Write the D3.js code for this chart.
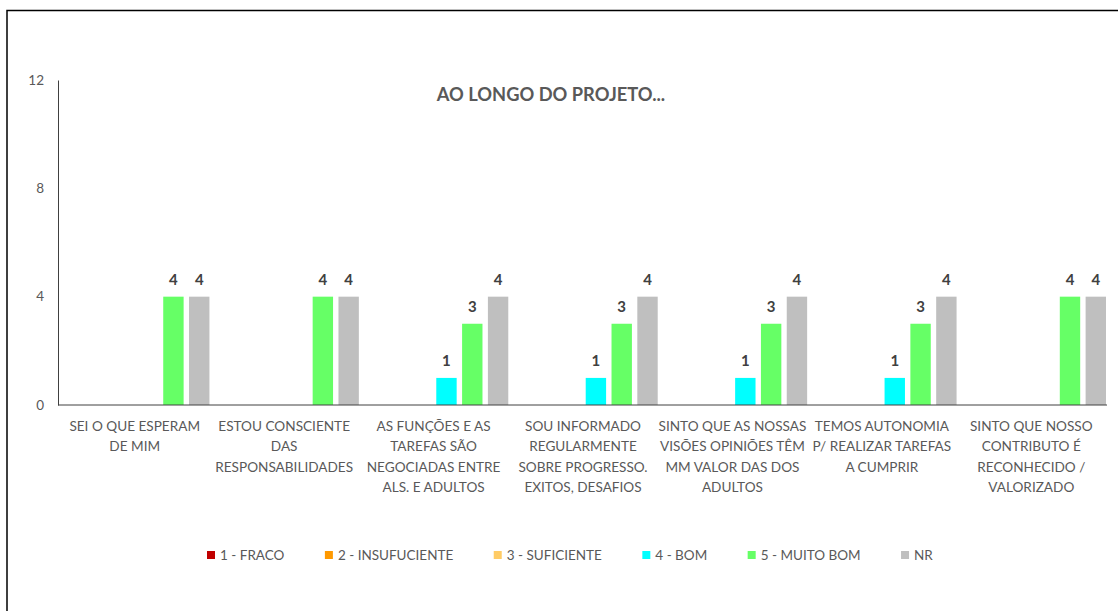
<!DOCTYPE html>
<html>
<head>
<meta charset="utf-8">
<script src="https://cdn.jsdelivr.net/npm/d3@7"></script>
<style>
  html, body { margin: 0; padding: 0; background: #fff; }
  svg { display: block; }
  text { font-family: Lato, "Open Sans", sans-serif; }
</style>
</head>
<body>
<svg id="chart" width="1118" height="611"></svg>
<script>
// ---- data ----
const categories = [
  ["SEI O QUE ESPERAM", "DE MIM"],
  ["ESTOU CONSCIENTE", "DAS", "RESPONSABILIDADES"],
  ["AS FUNÇÕES E AS", "TAREFAS SÃO", "NEGOCIADAS ENTRE", "ALS. E ADULTOS"],
  ["SOU INFORMADO", "REGULARMENTE", "SOBRE PROGRESSO.", "EXITOS, DESAFIOS"],
  ["SINTO QUE AS NOSSAS", "VISÕES OPINIÕES TÊM", "MM VALOR DAS DOS", "ADULTOS"],
  ["TEMOS AUTONOMIA", "P/ REALIZAR TAREFAS", "A CUMPRIR"],
  ["SINTO QUE NOSSO", "CONTRIBUTO É", "RECONHECIDO /", "VALORIZADO"]
];
const seriesNames = ["1 - FRACO", "2 - INSUFUCIENTE", "3 - SUFICIENTE", "4 - BOM", "5 - MUITO BOM", "NR"];
const fraco        = [0, 0, 0, 0, 0, 0, 0];
const insuficiente = [0, 0, 0, 0, 0, 0, 0];
const suficiente   = [0, 0, 0, 0, 0, 0, 0];
const bom          = [0, 0, 1, 1, 1, 1, 0];
const muitoBom     = [4, 4, 3, 3, 3, 3, 4];
const nr           = [4, 4, 4, 4, 4, 4, 4];
const yTicks = [0, 4, 8, 12];
const title = "AO LONGO DO PROJETO...";

// ---- styling ----
const colors = ["#C00000", "#FF9900", "#FFCC66", "#00FFFF", "#66FF66", "#BFBFBF"];
const seriesValues = [fraco, insuficiente, suficiente, bom, muitoBom, nr];

const svg = d3.select("#chart");

// chart frame (cropped on right and bottom)
svg.append("path")
  .attr("d", "M7,1000 L7,10.5 L1200,10.5")
  .attr("fill", "none").attr("stroke", "#000").attr("stroke-width", 1.5);

const catIdx = d3.range(categories.length);
const x0 = d3.scaleBand().domain(catIdx).range([60, 1106]).paddingInner(0).paddingOuter(0);
const x1 = d3.scaleBand().domain(d3.range(seriesNames.length)).range([0, x0.bandwidth()])
  .paddingInner(0.21).paddingOuter(0);
const y = d3.scaleLinear().domain([0, 12]).range([405, 80]);

// title
svg.append("text")
  .attr("x", 551).attr("y", 101)
  .attr("text-anchor", "middle")
  .attr("font-size", 18.3).attr("font-weight", "bold").attr("fill", "#595959")
  .text(title);

// y axis
const yAxis = d3.axisLeft(y).tickValues(yTicks).tickSize(0).tickPadding(14).tickFormat(d3.format("d"));
const gy = svg.append("g").attr("transform", "translate(58,0)").call(yAxis);
gy.select(".domain").attr("stroke", "#404040");
gy.selectAll("text").attr("font-size", 13.5).attr("fill", "#595959")
  .attr("font-family", "Lato, 'Open Sans', sans-serif");

// bars
const groups = svg.append("g").selectAll("g")
  .data(catIdx).join("g")
  .attr("transform", i => `translate(${x0(i)},0)`);

groups.selectAll("rect")
  .data(i => seriesValues.map((arr, s) => ({ s, v: arr[i] })))
  .join("rect")
  .attr("x", d => x1(d.s))
  .attr("width", x1.bandwidth())
  .attr("y", d => y(d.v))
  .attr("height", d => y(0) - y(d.v))
  .attr("fill", d => colors[d.s]);

groups.selectAll("text.val")
  .data(i => seriesValues.map((arr, s) => ({ s, v: arr[i] })).filter(d => d.v > 0))
  .join("text")
  .attr("class", "val")
  .attr("x", d => x1(d.s) + x1.bandwidth() / 2)
  .attr("y", d => y(d.v) - 12)
  .attr("text-anchor", "middle")
  .attr("font-size", 15).attr("font-weight", "bold").attr("fill", "#404040")
  .text(d => d.v);

// x axis line
svg.append("line")
  .attr("x1", 58).attr("x2", 1107)
  .attr("y1", y(0)).attr("y2", y(0))
  .attr("stroke", "#404040").attr("stroke-width", 1);

// category labels
const catLabels = svg.append("g").selectAll("text")
  .data(catIdx).join("text")
  .attr("text-anchor", "middle")
  .attr("font-size", 13.6).attr("fill", "#595959")
  .attr("transform", i => `translate(${x0(i) + x0.bandwidth() / 2},431)`);
catLabels.selectAll("tspan")
  .data(i => categories[i])
  .join("tspan")
  .attr("x", 0)
  .attr("dy", (d, j) => j === 0 ? 0 : 20.3)
  .text(d => d);

// legend
const legend = svg.append("g");
let lx = 207;
seriesNames.forEach((name, s) => {
  legend.append("rect")
    .attr("x", lx).attr("y", 551).attr("width", 8).attr("height", 8)
    .attr("fill", colors[s]);
  const t = legend.append("text")
    .attr("x", lx + 13).attr("y", 560)
    .attr("font-size", 13.5).attr("fill", "#595959")
    .text(name);
  const w = t.node().getComputedTextLength();
  lx += 13 + w + 40.5;
});
</script>
</body>
</html>
